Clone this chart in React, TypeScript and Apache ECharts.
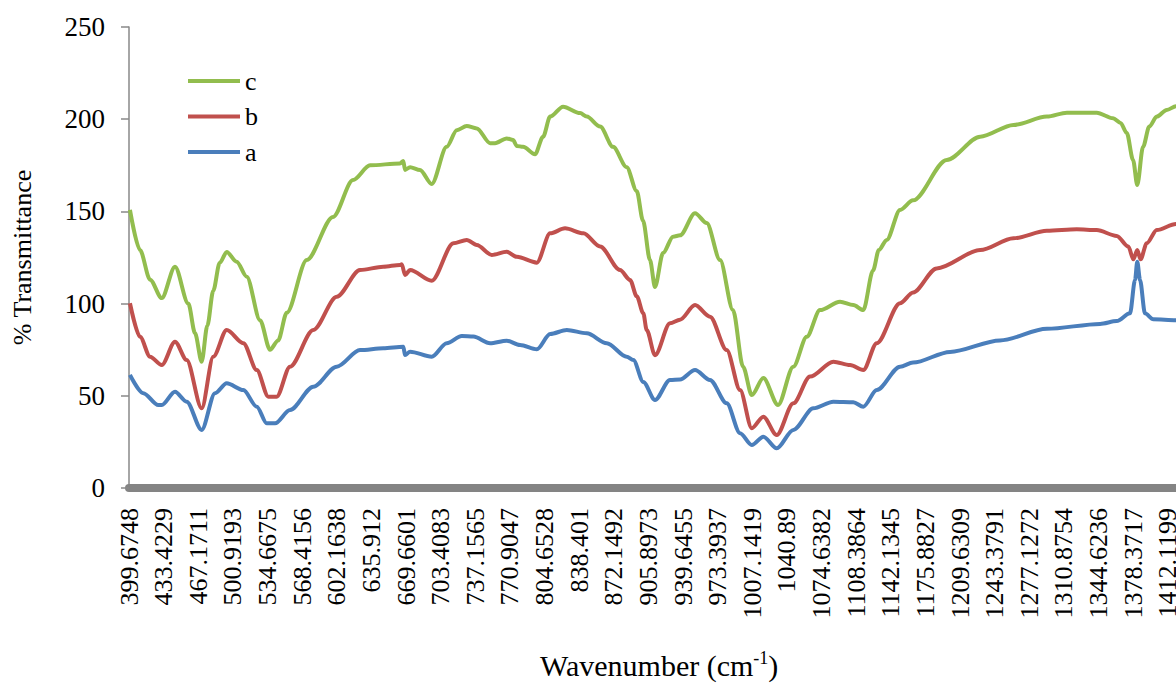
import React, { useEffect, useRef } from "react";
import * as echarts from "echarts";

// Wavenumber tick labels along the bottom axis (cm-1)
const tickLabels = [
  "399.6748", "433.4229", "467.1711", "500.9193", "534.6675", "568.4156",
  "602.1638", "635.912", "669.6601", "703.4083", "737.1565", "770.9047",
  "804.6528", "838.401", "872.1492", "905.8973", "939.6455", "973.3937",
  "1007.1419", "1040.89", "1074.6382", "1108.3864", "1142.1345", "1175.8827",
  "1209.6309", "1243.3791", "1277.1272", "1310.8754", "1344.6236", "1378.3717",
  "1412.1199",
];
const axisStart = 399.6748;
const axisEnd = 1460;
const tickStep = 33.74815;

// Spectrum c
const cWave = [
  400.6, 410.4, 420.2, 431.6, 444.5, 457.5, 464, 470.5, 476, 481.8, 488, 494.9,
  504.6, 514.4, 527.4, 537.1, 545, 553.4, 572.9, 598.5, 618, 634.6, 663.8, 667,
  668.7, 673.6, 683.3, 694.7, 709.3, 719.1, 728.8, 738.6, 751.6, 756.4, 767.8,
  774, 777.6, 783.7, 795.4, 803.2, 810.1, 822.7, 839.3, 845.8, 858.8, 871.4,
  884.7, 894.5, 900.6, 907.4, 912.3, 920.1, 929.9, 936.7, 951.3, 962.7, 975.7,
  988.3, 998.1, 1006.6, 1017.9, 1032.2, 1047.1, 1060.2, 1073.1, 1092.6, 1105.6,
  1115.3, 1124.8, 1130.4, 1138.1, 1151.1, 1163.8, 1196.6, 1229.2, 1261.6,
  1294.2, 1313.7, 1342.8, 1358.7, 1366, 1372.1, 1378.2, 1382.3, 1387.9, 1394,
  1401.3, 1411, 1420, 1440,
];
const cValues = [
  150.8, 129, 113, 103, 120, 100, 84, 68.5, 88, 107, 122, 128,
  122.7, 114.6, 91, 75, 80, 95, 123.6, 147, 167, 175, 176, 177.3,
  172.5, 174, 172.5, 164.9, 185, 194, 196.3, 195, 187, 187, 189.6,
  188.7, 185.5, 185, 181, 190.5, 201.4, 206.8, 203.3, 201.4, 196, 185,
  174, 161, 145, 123.6, 109, 127.4, 136.3, 137, 149, 143.7, 123.6,
  96.5, 65.8, 50.4, 59.6, 45, 65.8, 82, 96.5, 101, 99.2,
  96.5, 118, 129, 134.5, 150.8, 156, 177.9, 190.5, 196.9,
  201.4, 203.5, 203.5, 200.5, 198, 192.5, 177.9, 164.3, 185, 196,
  201.4, 205, 207, 208,
];

// Spectrum b
const bWave = [
  400.6, 410.4, 420.2, 431.6, 444.5, 455.9, 470.5, 481.8, 494.9, 511.1, 524.2,
  535.5, 543.6, 556.6, 579.3, 602.1, 624.8, 647.5, 663.8, 665.5, 668.7, 673.6,
  694.7, 715.8, 728.8, 738.6, 753.2, 767.8, 777.6, 797.1, 810.1, 824.6, 842.5,
  858.8, 878.2, 888, 894.5, 900.9, 904.2, 912.3, 926.9, 936.7, 951.3, 965.9,
  982.2, 995.2, 1006.6, 1017.9, 1030.9, 1047.1, 1063.4, 1086.1, 1102.4, 1115.3,
  1128.4, 1151.1, 1163.8, 1186.8, 1229.2, 1261.6, 1294.2, 1323.3, 1342.8,
  1362.3, 1373.6, 1378.5, 1382.3, 1385.5, 1391.5, 1401.3, 1420, 1440,
];
const bValues = [
  100.2, 82, 71.2, 66.7, 79.3, 69.4, 43.2, 71.2, 85.7, 78.5, 64,
  49.5, 49.5, 65.8, 85.7, 103.7, 118.2, 120, 121, 121.3, 115.5, 118.2,
  112.4, 132.7, 134.5, 131.8, 126.4, 128.1, 125.4, 122.2, 138.1, 140.8, 138.1,
  131, 118.2, 112.8, 104, 94.7, 85.7, 72, 89.3, 91.3, 99.2, 92.9,
  74.8, 53.1, 32.4, 38.7, 28.7, 45.9, 60.4, 68.5, 66.7, 64,
  78.5, 100.2, 106, 119.1, 129, 135.4, 139.5, 140.3, 139.9,
  136.7, 130.9, 124, 129, 124, 132.7, 139.9, 143.2, 144,
];

// Spectrum a
const aWave = [
  400.6, 413.6, 428.2, 431.6, 444.5, 455.9, 470.5, 483.5, 494.9, 511.1, 524.2,
  533.9, 542, 556.6, 579.3, 602.1, 624.8, 647.5, 667, 668.7, 673.6, 694.7,
  709.3, 724, 735.3, 751.6, 767.8, 780.8, 797.1, 810.1, 826.3, 845.8, 865.3,
  884.7, 891.2, 900.9, 912.3, 926.9, 936.7, 951.3, 965.9, 982.2, 995.2, 1006.6,
  1017.9, 1030.9, 1047.1, 1066.6, 1086.1, 1105.6, 1115.3, 1128.4, 1151.1,
  1163.8, 1199.8, 1248.5, 1294.2, 1346, 1362.3, 1375.2, 1380.1, 1382.3, 1385,
  1389.8, 1397.9, 1420, 1440,
];
const aValues = [
  61.3, 51.4, 45, 45, 52.2, 46.8, 31.5, 51.4, 56.8, 53.1, 44.1,
  35.1, 35.1, 42.3, 54.9, 65.8, 74.8, 75.8, 76.6, 72.1, 73.9, 71.2,
  78.5, 82.4, 82.1, 78.5, 79.9, 77.5, 75.2, 83.5, 85.7, 83.9, 78.5,
  71.2, 69.4, 57.5, 47.7, 58.6, 58.9, 64, 58.6, 45.9, 29.7, 23.3,
  27.8, 21.5, 31.5, 43.2, 46.8, 46.5, 44.1, 53.1, 65.8,
  68, 73.8, 80, 86.3, 89, 90.5, 94.7, 112.8, 122.7, 112.8,
  94.7, 91.5, 91, 91,
];

const seriesNames = ["c", "b", "a"];
const seriesColors = ["#92BD4E", "#C0504D", "#4A7EBB"];

const serif = "Liberation Serif";

export default function App() {
  const ref = useRef<HTMLDivElement>(null);

  useEffect(() => {
    if (!ref.current) return;
    const chart = echarts.init(ref.current, undefined, { renderer: "svg" });

    const waves = [cWave, bWave, aWave];
    const values = [cValues, bValues, aValues];

    chart.setOption({
      animation: false,
      backgroundColor: "#ffffff",
      textStyle: { fontFamily: serif },
      title: {
        text: "{n|Wavenumber (cm}{s|-1}{n|)}",
        left: 540,
        top: 649,
        padding: 0,
        textStyle: {
          fontWeight: "normal",
          fontFamily: serif,
          rich: {
            n: {
              fontFamily: serif,
              fontWeight: "normal",
              fontSize: 30,
              color: "#000",
              lineHeight: 32,
            },
            s: {
              fontFamily: serif,
              fontWeight: "normal",
              fontSize: 18,
              color: "#000",
              lineHeight: 18,
              verticalAlign: "top",
            },
          },
        },
      },
      legend: {
        orient: "vertical",
        left: 188,
        top: 68,
        padding: 0,
        itemWidth: 52,
        itemHeight: 4,
        itemGap: 9.5,
        icon: "rect",
        data: seriesNames,
        textStyle: {
          fontFamily: serif,
          fontSize: 26,
          lineHeight: 26,
          color: "#000",
        },
      },
      // the plot area runs on past the right edge of the visible frame
      grid: { left: 129, top: 27, bottom: 196, right: 0, containLabel: false },
      xAxis: {
        type: "value",
        min: axisStart,
        max: axisEnd,
        interval: tickStep,
        offset: 4,
        axisLine: { show: true, lineStyle: { color: "#848484", width: 8 } },
        axisTick: { show: false },
        splitLine: { show: false },
        axisLabel: {
          rotate: 90,
          margin: 16,
          showMaxLabel: false,
          fontFamily: serif,
          fontSize: 26,
          color: "#000",
          formatter: (v: number) => {
            const i = Math.round((v - axisStart) / tickStep);
            return tickLabels[i] ?? "";
          },
        },
      },
      yAxis: {
        type: "value",
        min: 0,
        max: 250,
        interval: 50,
        name: "% Transmittance",
        nameLocation: "middle",
        nameGap: 94,
        nameTextStyle: { fontFamily: serif, fontSize: 26, color: "#000" },
        axisLine: { show: true, lineStyle: { color: "#888888", width: 1.5 } },
        axisTick: { show: true, length: 8, lineStyle: { color: "#888888", width: 1.5 } },
        splitLine: { show: false },
        axisLabel: { margin: 24, fontFamily: serif, fontSize: 27, color: "#000" },
      },
      series: seriesNames.map((name, k) => ({
        name,
        type: "line",
        symbol: "none",
        showSymbol: false,
        smooth: 0.3,
        smoothMonotone: "x",
        itemStyle: { color: seriesColors[k] },
        lineStyle: { color: seriesColors[k], width: 4 },
        data: waves[k].map((w, i) => [w, values[k][i]]),
      })),
    });

    return () => chart.dispose();
  }, []);

  return (
    <div
      style={{
        position: "absolute",
        left: 0,
        top: 0,
        width: 1176,
        height: 684,
        overflow: "hidden",
      }}
    >
      <div ref={ref} style={{ width: 1217, height: 684 }} />
    </div>
  );
}
